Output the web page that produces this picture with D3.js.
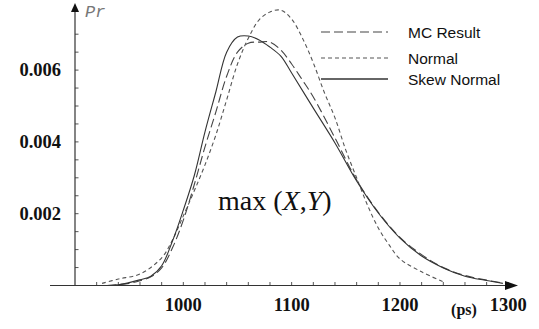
<!DOCTYPE html>
<html>
<head>
<meta charset="utf-8">
<script src="https://cdn.jsdelivr.net/npm/d3@7"></script>
<style>
  body { margin: 0; background: #fff; }
  svg { display: block; }
</style>
</head>
<body>
<svg id="chart" width="539" height="329"></svg>
<script>
// values
var skewX = [920, 940, 960, 970, 980, 990, 1000, 1010, 1020, 1030, 1040, 1050, 1060, 1070, 1080, 1090, 1100, 1120, 1140, 1160, 1180, 1200, 1220, 1240, 1260, 1280, 1295];
var skewY = [0, 0.00002, 0.00016, 0.00026, 0.00055, 0.00124, 0.0021, 0.00305, 0.00428, 0.00539, 0.0065, 0.00692, 0.00695, 0.00684, 0.00664, 0.00639, 0.00592, 0.00494, 0.00397, 0.00291, 0.00202, 0.00132, 0.00082, 0.00049, 0.00026, 0.00014, 0.00006];

var mcX = [930, 950, 960, 970, 980, 990, 1000, 1010, 1020, 1030, 1040, 1050, 1060, 1070, 1080, 1090, 1100, 1110, 1120, 1140, 1160, 1180, 1200, 1220, 1240, 1260, 1280, 1295];
var mcY = [0, 0.00006, 0.00013, 0.00024, 0.00049, 0.00105, 0.00182, 0.0028, 0.00386, 0.00483, 0.00583, 0.0065, 0.00675, 0.00678, 0.00678, 0.00656, 0.00617, 0.00572, 0.00525, 0.00411, 0.00294, 0.00204, 0.00134, 0.00086, 0.0005, 0.00028, 0.00015, 0.00007];

var normX = [925, 940, 960, 980, 990, 1000, 1010, 1020, 1030, 1040, 1050, 1060, 1070, 1080, 1090, 1100, 1110, 1120, 1130, 1140, 1150, 1160, 1170, 1180, 1190, 1200, 1220, 1240];
var normY = [0.00006, 0.00018, 0.00032, 0.00077, 0.00127, 0.00194, 0.00263, 0.00336, 0.00419, 0.00517, 0.00617, 0.00689, 0.0074, 0.00762, 0.00767, 0.00742, 0.00689, 0.0062, 0.00539, 0.00467, 0.00377, 0.003, 0.00224, 0.0016, 0.00113, 0.00074, 0.00038, 0.0001];

var xTickLabels = [1000, 1100, 1200, 1300];
var yTickLabels = [0.002, 0.004, 0.006];
var legendNames = ["MC Result", "Normal", "Skew Normal"];

var svg = d3.select("#chart");

var x = d3.scaleLinear().domain([900, 1300]).range([75, 508.3]);
var y = d3.scaleLinear().domain([0, 0.007]).range([285.5, 34.2]);

var axisColor = "#333";

// minor ticks
var xMinor = d3.range(920, 1301, 20);
svg.selectAll(".xt").data(xMinor).enter().append("line")
    .attr("x1", d => x(d)).attr("x2", d => x(d))
    .attr("y1", y(0)).attr("y2", y(0) - 3.5)
    .attr("stroke", "#555").attr("stroke-width", 1);

var yMinor = d3.range(1, 15).map(d => d * 0.0005);
svg.selectAll(".yt").data(yMinor).enter().append("line")
    .attr("x1", x(900)).attr("x2", x(900) + 3.5)
    .attr("y1", d => y(d)).attr("y2", d => y(d))
    .attr("stroke", "#555").attr("stroke-width", 1);

// axes with arrow heads
svg.append("line")
    .attr("x1", 50).attr("x2", 510)
    .attr("y1", y(0)).attr("y2", y(0))
    .attr("stroke", axisColor).attr("stroke-width", 1.2);
svg.append("path")
    .attr("d", "M505," + (y(0) - 4.5) + "L518," + y(0) + "L505," + (y(0) + 4.5) + "Z")
    .attr("fill", "#111");

svg.append("line")
    .attr("x1", x(900)).attr("x2", x(900))
    .attr("y1", y(0)).attr("y2", 10)
    .attr("stroke", axisColor).attr("stroke-width", 1.2);
svg.append("path")
    .attr("d", "M" + (x(900) - 4) + ",12L" + x(900) + ",3L" + (x(900) + 4) + ",12Z")
    .attr("fill", "#111");

// tick labels
svg.selectAll(".xl").data(xTickLabels).enter().append("text")
    .attr("x", d => x(d)).attr("y", 311)
    .attr("text-anchor", "middle")
    .attr("font-family", "Liberation Serif, Times New Roman, serif")
    .attr("font-weight", "bold").attr("font-size", "18.5px")
    .attr("fill", "#111")
    .text(d => d);

svg.selectAll(".yl").data(yTickLabels).enter().append("text")
    .attr("x", 61).attr("y", d => y(d) + 6)
    .attr("text-anchor", "end")
    .attr("font-family", "Liberation Serif, Times New Roman, serif")
    .attr("font-weight", "bold").attr("font-size", "18.5px")
    .attr("fill", "#111")
    .text(d => d.toFixed(3));

svg.append("text")
    .attr("x", 464).attr("y", 315)
    .attr("text-anchor", "middle")
    .attr("font-family", "Liberation Serif, Times New Roman, serif")
    .attr("font-weight", "bold").attr("font-size", "16px")
    .attr("fill", "#111")
    .text("(ps)");

svg.append("text")
    .attr("x", 85).attr("y", 17)
    .attr("font-family", "Liberation Mono, DejaVu Sans Mono, monospace")
    .attr("font-style", "italic").attr("font-size", "17px")
    .attr("fill", "#777")
    .text("Pr");

var maxLabel = svg.append("text")
    .attr("x", 218).attr("y", 210)
    .attr("font-family", "Liberation Serif, Times New Roman, serif")
    .attr("font-size", "28px")
    .attr("fill", "#111");
maxLabel.append("tspan").text("max (");
maxLabel.append("tspan").attr("font-style", "italic").text("X");
maxLabel.append("tspan").text(",");
maxLabel.append("tspan").attr("font-style", "italic").text("Y");
maxLabel.append("tspan").text(")");

// curves
var styles = [
    { xs: mcX, ys: mcY, dash: "9,4", color: "#444", width: 1.1 },
    { xs: normX, ys: normY, dash: "4,3", color: "#555", width: 1.1 },
    { xs: skewX, ys: skewY, dash: null, color: "#333", width: 1.1 }
];

var line = d3.line()
    .x(d => x(d[0]))
    .y(d => y(d[1]))
    .curve(d3.curveCatmullRom.alpha(0.5));

styles.forEach(function(s) {
    var pts = s.xs.map((v, i) => [v, s.ys[i]]);
    svg.append("path")
        .attr("d", line(pts))
        .attr("fill", "none")
        .attr("stroke", s.color)
        .attr("stroke-width", s.width)
        .attr("stroke-dasharray", s.dash);
});

// legend
var legendY = [32, 58, 79];
legendNames.forEach(function(name, i) {
    svg.append("line")
        .attr("x1", 321).attr("x2", 388)
        .attr("y1", legendY[i]).attr("y2", legendY[i])
        .attr("stroke", styles[i].color)
        .attr("stroke-width", styles[i].dash ? 1.1 : 1.6)
        .attr("stroke-dasharray", i == 0 ? "9,4" : styles[i].dash);
    svg.append("text")
        .attr("x", 408).attr("y", legendY[i] + 5.5)
        .attr("font-family", "Liberation Sans, Arial, sans-serif")
        .attr("font-size", "15.5px")
        .attr("fill", "#111")
        .text(name);
});
</script>
</body>
</html>
